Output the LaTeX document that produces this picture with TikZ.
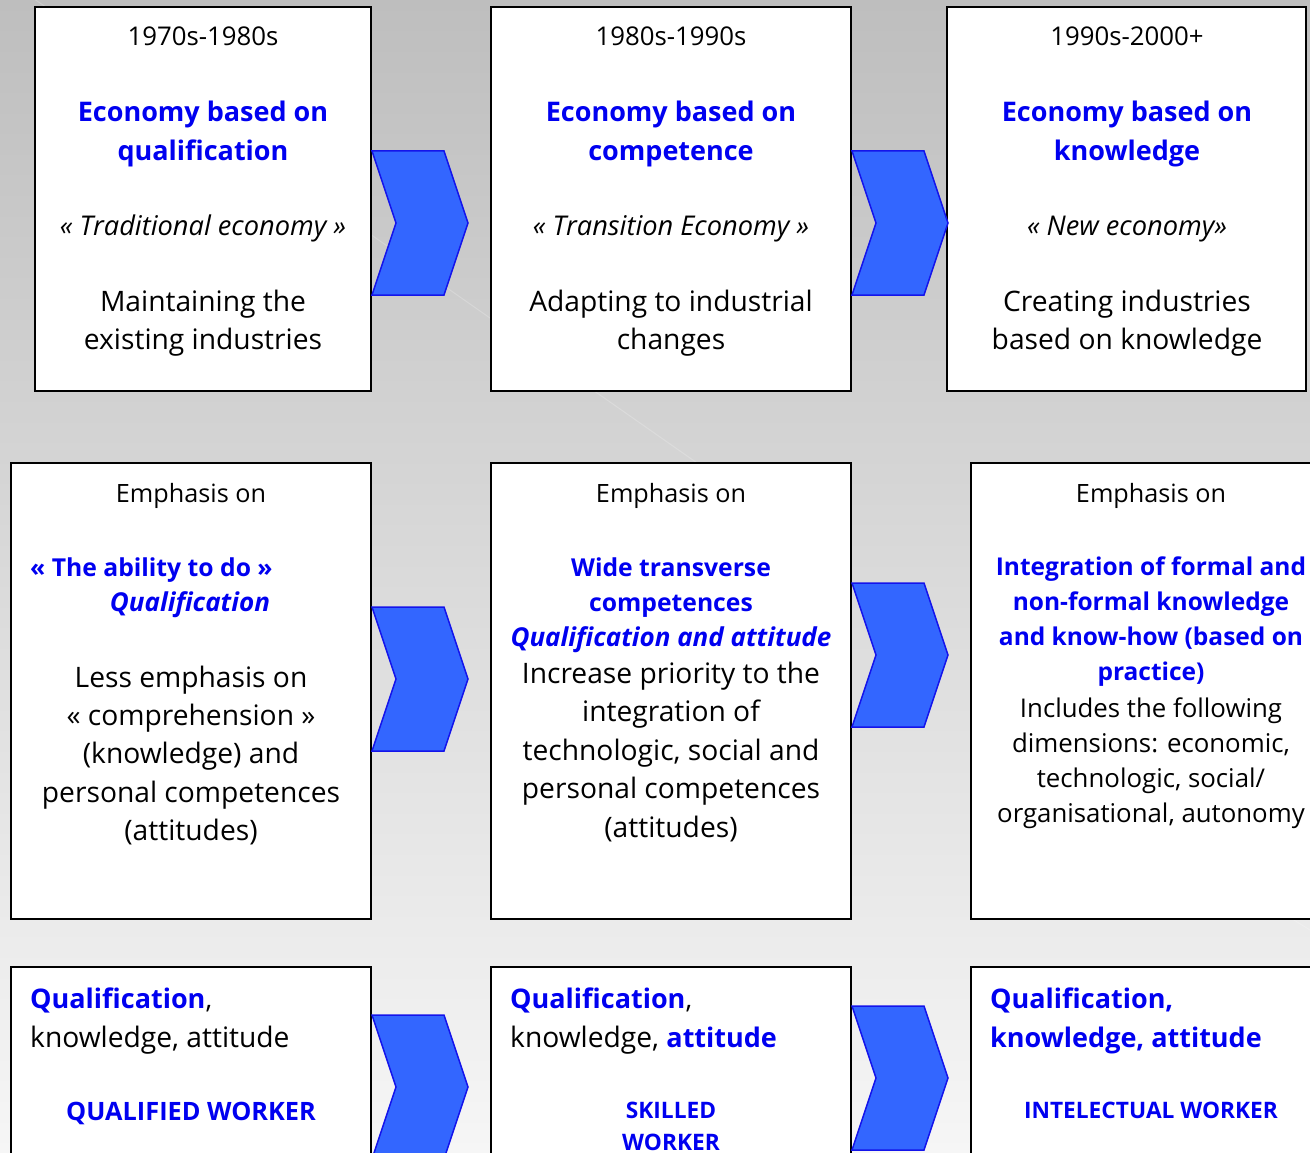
\documentclass[tikz,border=0pt]{standalone}
\usepackage{fontspec}
\setmainfont{Open Sans}
\definecolor{tblue}{RGB}{0,0,240}
\definecolor{afill}{RGB}{51,102,255}
\definecolor{aline}{RGB}{20,20,235}
\definecolor{bgtop}{RGB}{190,190,190}
\definecolor{bgbot}{RGB}{246,246,246}
\newcommand\fHd{\fontsize{25.8}{30}\selectfont}
\newcommand\fEm{\fontsize{25.2}{30}\selectfont}
\newcommand\fBd{\fontsize{27}{32}\selectfont\bfseries}
\newcommand\fIt{\fontsize{27.2}{32}\selectfont\itshape}
\newcommand\fRg{\fontsize{28.2}{32}\selectfont}
\newcommand\fBm{\fontsize{24.7}{30}\selectfont\bfseries}
\newcommand\fBi{\fontsize{26}{30}\selectfont\bfseries\itshape}
\newcommand\fBs{\fontsize{24.5}{28}\selectfont\bfseries}
\newcommand\fRs{\fontsize{25.8}{30}\selectfont}
\newcommand\fWk{\fontsize{25.3}{30}\selectfont\bfseries}
\newcommand\fWs{\fontsize{22.7}{26}\selectfont\bfseries}
\begin{document}
\begin{tikzpicture}[x=1pt,y=-1pt,
  box/.style={draw=black,line width=2pt,fill=white,inner sep=0pt},
  chev/.style={fill=afill,draw=aline,line width=1.5pt,line join=miter},
  ln/.style={anchor=base,inner sep=0pt,text=black},
  bl/.style={ln,text=tblue},
  lnw/.style={anchor=base west,inner sep=0pt,text=black},
  blw/.style={lnw,text=tblue}]
\useasboundingbox (0,0) rectangle (1310,1153);
\clip (0,0) rectangle (1310,1153);
\shade[top color=bgtop,bottom color=bgbot] (0,0) rectangle (1310,1153);
\draw[white,opacity=0.2,line width=1pt] (0,-25) -- (700,465);
\draw[white,opacity=0.2,line width=1pt] (1100,800) -- (1310,930);
% boxes row 1
\node[box,minimum width=336pt,minimum height=384pt] (b1) at (203,199) {};
\node[box,minimum width=360pt,minimum height=384pt] (b2) at (671,199) {};
\node[box,minimum width=359pt,minimum height=384pt] (b3) at (1126.5,199) {};
% boxes row 2
\node[box,minimum width=360pt,minimum height=456pt] (b4) at (191,691) {};
\node[box,minimum width=360pt,minimum height=456pt] (b5) at (671,691) {};
\node[box,minimum width=360pt,minimum height=456pt] (b6) at (1151,691) {};
% boxes row 3
\node[box,minimum width=360pt,minimum height=300pt] (b7) at (191,1117) {};
\node[box,minimum width=360pt,minimum height=300pt] (b8) at (671,1117) {};
\node[box,minimum width=360pt,minimum height=300pt] (b9) at (1151,1117) {};
% chevrons
\draw[chev] (b1.east |- 0,151) -- ++(72,0) -- ++(24,72) -- ++(-24,72) -- ++(-72,0) -- ++(24,-72) -- cycle;
\draw[chev] (b2.east |- 0,151) -- ++(72,0) -- ++(24,72) -- ++(-24,72) -- ++(-72,0) -- ++(24,-72) -- cycle;
\draw[chev] (b4.east |- 0,607) -- ++(72,0) -- ++(24,72) -- ++(-24,72) -- ++(-72,0) -- ++(24,-72) -- cycle;
\draw[chev] (b5.east |- 0,583) -- ++(72,0) -- ++(24,72) -- ++(-24,72) -- ++(-72,0) -- ++(24,-72) -- cycle;
\draw[chev] (b7.east |- 0,1015) -- ++(72,0) -- ++(24,72) -- ++(-24,72) -- ++(-72,0) -- ++(24,-72) -- cycle;
\draw[chev] (b8.east |- 0,1006) -- ++(72,0) -- ++(24,72) -- ++(-24,72) -- ++(-72,0) -- ++(24,-72) -- cycle;
% box 1 text
\node[ln,font=\fHd] (t1a) at (203,46) {1970s-1980s};
\node[bl,font=\fBd] (t1b) at (203,122) {Economy based on};
\node[bl,font=\fBd] (t1c) at (203,161) {qualification};
\node[ln,font=\fIt] (t1d) at (203,235) {« Traditional economy »};
\node[ln,font=\fRg] (t1e) at (203,311) {Maintaining the};
\node[ln,font=\fRg] (t1f) at (203,349) {existing industries};
% box 2 text
\node[ln,font=\fHd] (t2a) at (671,46) {1980s-1990s};
\node[bl,font=\fBd] (t2b) at (671,122) {Economy based on};
\node[bl,font=\fBd] (t2c) at (671,161) {competence};
\node[ln,font=\fIt] (t2d) at (671,235) {« Transition Economy »};
\node[ln,font=\fRg] (t2e) at (671,311) {Adapting to industrial};
\node[ln,font=\fRg] (t2f) at (671,349) {changes};
% box 3 text
\node[ln,font=\fHd] (t3a) at (1127,46) {1990s-2000+};
\node[bl,font=\fBd] (t3b) at (1127,122) {Economy based on};
\node[bl,font=\fBd] (t3c) at (1127,161) {knowledge};
\node[ln,font=\fIt] (t3d) at (1127,235) {« New economy»};
\node[ln,font=\fRg] (t3e) at (1127,311) {Creating industries};
\node[ln,font=\fRg] (t3f) at (1127,349) {based on knowledge};
% box 4 text
\node[ln,font=\fEm] (t4a) at (191,502) {Emphasis on};
\node[blw,font=\fBm] (t4b) at (30,576) {« The ability to do »};
\node[bl,font=\fBi] (t4c) at (190,611) {Qualification};
\node[ln,font=\fRg] (t4d) at (191,687) {Less emphasis on};
\node[ln,font=\fRg] (t4e) at (191,725) {« comprehension »};
\node[ln,font=\fRg] (t4f) at (191,763) {(knowledge) and};
\node[ln,font=\fRg] (t4g) at (191,802) {personal competences};
\node[ln,font=\fRg] (t4h) at (191,840) {(attitudes)};
% box 5 text
\node[ln,font=\fEm] (t5a) at (671,502) {Emphasis on};
\node[bl,font=\fBm] (t5b) at (671,576) {Wide transverse};
\node[bl,font=\fBm] (t5c) at (671,611) {competences};
\node[bl,font=\fBi] (t5d) at (671,646) {Qualification and attitude};
\node[ln,font=\fRg] (t5e) at (671,683) {Increase priority to the};
\node[ln,font=\fRg] (t5f) at (671,721) {integration of};
\node[ln,font=\fRg] (t5g) at (671,760) {technologic, social and};
\node[ln,font=\fRg] (t5h) at (671,798) {personal competences};
\node[ln,font=\fRg] (t5i) at (671,837) {(attitudes)};
% box 6 text
\node[ln,font=\fEm] (t6a) at (1151,502) {Emphasis on};
\node[bl,font=\fBs] (t6b) at (1151,575) {Integration of formal and};
\node[bl,font=\fBs] (t6c) at (1151,610) {non-formal knowledge};
\node[bl,font=\fBs] (t6d) at (1151,645) {and know-how (based on};
\node[bl,font=\fBs] (t6e) at (1151,680) {practice)};
\node[ln,font=\fRs] (t6f) at (1151,717) {Includes the following};
\node[ln,font=\fRs] (t6g) at (1151,752) {dimensions: economic,};
\node[ln,font=\fRs] (t6h) at (1151,787) {technologic, social/};
\node[ln,font=\fRs] (t6i) at (1151,822) {organisational, autonomy};
% box 7 text
\node[blw,font=\fBd] (t7a) at (30,1008) {Qualification\textcolor{black}{\mdseries,}};
\node[lnw,font=\fRg] (t7b) at (30,1047) {knowledge, attitude};
\node[bl,font=\fWk] (t7c) at (191,1120) {QUALIFIED WORKER};
% box 8 text
\node[blw,font=\fBd] (t8a) at (510,1008) {Qualification\textcolor{black}{\mdseries,}};
\node[lnw,font=\fRg] (t8b) at (510,1047) {knowledge, \textcolor{tblue}{\fBd attitude}};
\node[bl,font=\fWs] (t8c) at (671,1118) {SKILLED};
\node[bl,font=\fWs] (t8d) at (671,1150) {WORKER};
% box 9 text
\node[blw,font=\fBd] (t9a) at (990,1008) {Qualification,};
\node[blw,font=\fBd] (t9b) at (990,1047) {knowledge, attitude};
\node[bl,font=\fWs] (t9c) at (1151,1118) {INTELECTUAL WORKER};
\end{tikzpicture}
\end{document}
